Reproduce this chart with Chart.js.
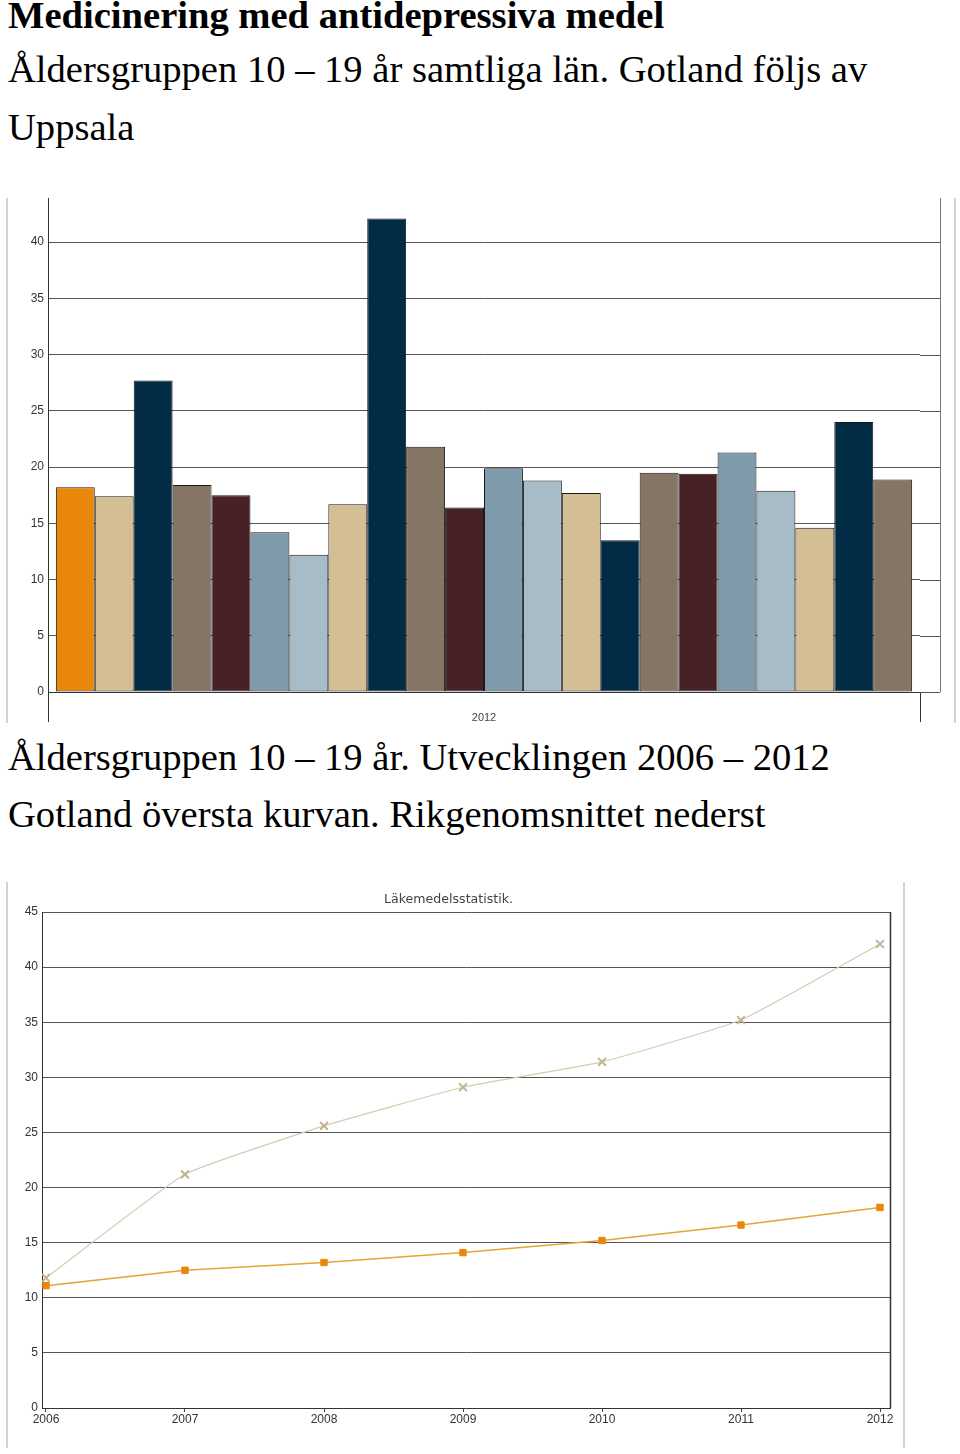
<!DOCTYPE html>
<html><head><meta charset="utf-8">
<script src="https://cdn.jsdelivr.net/npm/chart.js@4"></script>
<style>
html,body{margin:0;padding:0;background:#fff;}
body{width:960px;height:1454px;position:relative;overflow:hidden;}
.t{position:absolute;left:8px;font-family:"Liberation Serif","Times New Roman",serif;font-size:38.6px;line-height:38.6px;color:#000;white-space:nowrap;}
.vl{position:absolute;width:2px;background:#d2d2d2;}
canvas{display:block;}
</style></head><body>
<div class="t" style="top:-4px;font-weight:bold;">Medicinering med antidepressiva medel</div>
<div class="t" style="top:50px;">Åldersgruppen 10 – 19 år samtliga län. Gotland följs av</div>
<div class="t" style="top:108px;">Uppsala</div>
<div class="vl" style="left:6px;top:198px;height:525px"></div>
<div class="vl" style="left:954px;top:198px;height:525px"></div>
<div style="position:absolute;left:0;top:187px;"><canvas id="bar" width="960" height="543"></canvas></div>
<div class="t" style="top:738px;">Åldersgruppen 10 – 19 år. Utvecklingen 2006 – 2012</div>
<div class="t" style="top:795px;">Gotland översta kurvan. Rikgenomsnittet nederst</div>
<div class="vl" style="left:6px;top:882px;height:566px"></div>
<div class="vl" style="left:903px;top:882px;height:566px"></div>
<div style="position:absolute;left:7px;top:880px;"><canvas id="line" width="898" height="574"></canvas></div>
<script>
// ---- Bar chart data (2012, 10–19 år, Riket + län i länskodsordning) ----
const barCategory = ['2012'];
const regions = ['Riket','Stockholm','Uppsala','Södermanland','Östergötland','Jönköping','Kronoberg','Kalmar','Gotland','Blekinge','Skåne','Halland','Västra Götaland','Värmland','Örebro','Västmanland','Dalarna','Gävleborg','Västernorrland','Jämtland','Västerbotten','Norrbotten'];
const regionValues = [18.2, 17.4, 27.7, 18.4, 17.5, 14.2, 12.2, 16.7, 42.1, 21.8, 16.4, 19.9, 18.8, 17.7, 13.5, 19.5, 19.4, 21.3, 17.9, 14.6, 24.0, 18.9];
const riketColor = '#E8870A';
const cycleColors = ['#D4BF94', '#022B45', '#857565', '#472126', '#7F9AAB', '#A8BCC7'];

// ---- Line chart data ----
const years = [2006, 2007, 2008, 2009, 2010, 2011, 2012];
const gotlandSeries = [11.8, 21.2, 25.6, 29.1, 31.4, 35.2, 42.1];
const riketSeries = [11.1, 12.5, 13.2, 14.1, 15.2, 16.6, 18.2];
const lineTitle = 'Läkemedelsstatistik.';

const tickFont = {family: '"Liberation Sans", Arial, sans-serif', size: 12};

const extendGrid = {
  id: 'extendGrid',
  afterDraw(chart) {
    const {ctx, chartArea: a, scales: {y}} = chart;
    const ext = 20;
    ctx.save();
    ctx.lineWidth = 1;
    ctx.strokeStyle = '#555';
    y.ticks.forEach(t => {
      const py = Math.round(y.getPixelForValue(t.value)) + 0.5;
      ctx.beginPath(); ctx.moveTo(a.right, py); ctx.lineTo(a.right + ext, py); ctx.stroke();
    });
    ctx.strokeStyle = '#777';
    ctx.beginPath(); ctx.moveTo(a.right + ext + 0.5, a.top); ctx.lineTo(a.right + ext + 0.5, a.bottom); ctx.stroke();
    ctx.restore();
  }
};

const rightFrame = {
  id: 'rightFrame',
  afterDraw(chart) {
    const {ctx, chartArea: a} = chart;
    ctx.save();
    ctx.lineWidth = 1.5;
    ctx.strokeStyle = '#333';
    ctx.beginPath(); ctx.moveTo(Math.round(a.right) + 0.5, a.top); ctx.lineTo(Math.round(a.right) + 0.5, a.bottom); ctx.stroke();
    ctx.restore();
  }
};

new Chart(document.getElementById('bar'), {
  type: 'bar',
  data: {
    labels: barCategory,
    datasets: regions.map((r, i) => ({
      label: r,
      data: [regionValues[i]],
      backgroundColor: i === 0 ? riketColor : cycleColors[(i - 1) % cycleColors.length],
      borderColor: '#1a1a1a',
      borderWidth: 1,
      borderSkipped: false,
      categoryPercentage: 0.982,
      barPercentage: 1
    }))
  },
  options: {
    responsive: false,
    animation: false,
    layout: {padding: {top: 0, right: 40, left: 0, bottom: 0}},
    plugins: {legend: {display: false}, tooltip: {enabled: false}, title: {display: false}},
    scales: {
      x: {
        offset: true,
        grid: {offset: true, drawOnChartArea: false, tickLength: 30, color: '#333'},
        border: {color: '#333'},
        ticks: {font: {family: '"Liberation Sans", Arial, sans-serif', size: 11}, color: '#444', padding: -11},
        afterFit(s) { s.height = 38; }
      },
      y: {
        min: 0, max: 43.9,
        grid: {color: '#555', drawTicks: false},
        border: {color: '#333'},
        ticks: {stepSize: 5, includeBounds: false, font: tickFont, color: '#333', padding: 4},
        afterFit(s) { s.width = 48; }
      }
    }
  },
  plugins: [extendGrid]
});

new Chart(document.getElementById('line'), {
  type: 'line',
  data: {
    datasets: [
      {
        label: 'Riket',
        data: years.map((yr, i) => ({x: yr, y: riketSeries[i]})),
        borderColor: '#E4A436',
        borderWidth: 1.5,
        pointStyle: 'rect',
        pointRadius: 4.5,
        pointBackgroundColor: '#E8870A',
        pointBorderColor: '#E8870A',
        pointBorderWidth: 1,
        tension: 0
      },
      {
        label: 'Gotland',
        data: years.map((yr, i) => ({x: yr, y: gotlandSeries[i]})),
        borderColor: '#D6CBB3',
        borderWidth: 1.2,
        pointStyle: 'crossRot',
        pointRadius: 5.5,
        pointBorderColor: '#C4B48F',
        pointBorderWidth: 2,
        tension: 0.12
      }
    ]
  },
  options: {
    responsive: false,
    animation: false,
    layout: {padding: {top: 0, right: 15, left: 0, bottom: 0}},
    plugins: {
      legend: {display: false},
      tooltip: {enabled: false},
      title: {
        display: true, text: lineTitle, color: '#444',
        font: {family: '"DejaVu Sans", Verdana, sans-serif', size: 12.6, weight: 'normal', lineHeight: 1.2},
        padding: {top: 12.5, bottom: 4.4}
      }
    },
    scales: {
      x: {
        type: 'linear',
        min: years[0] - 4 / 139,
        max: years[years.length - 1] + 10 / 139,
        grid: {drawOnChartArea: false, tickLength: 4, color: '#444'},
        border: {color: '#333'},
        ticks: {stepSize: 1, includeBounds: false, font: tickFont, color: '#333', padding: 0, callback: v => String(v)},
        afterFit(s) { s.height = 46; }
      },
      y: {
        min: 0, max: 45,
        grid: {color: '#555', drawTicks: false},
        border: {color: '#333'},
        ticks: {stepSize: 5, font: tickFont, color: '#333', padding: 4},
        afterFit(s) { s.width = 35; }
      }
    }
  },
  plugins: [rightFrame]
});
</script>
</body></html>
